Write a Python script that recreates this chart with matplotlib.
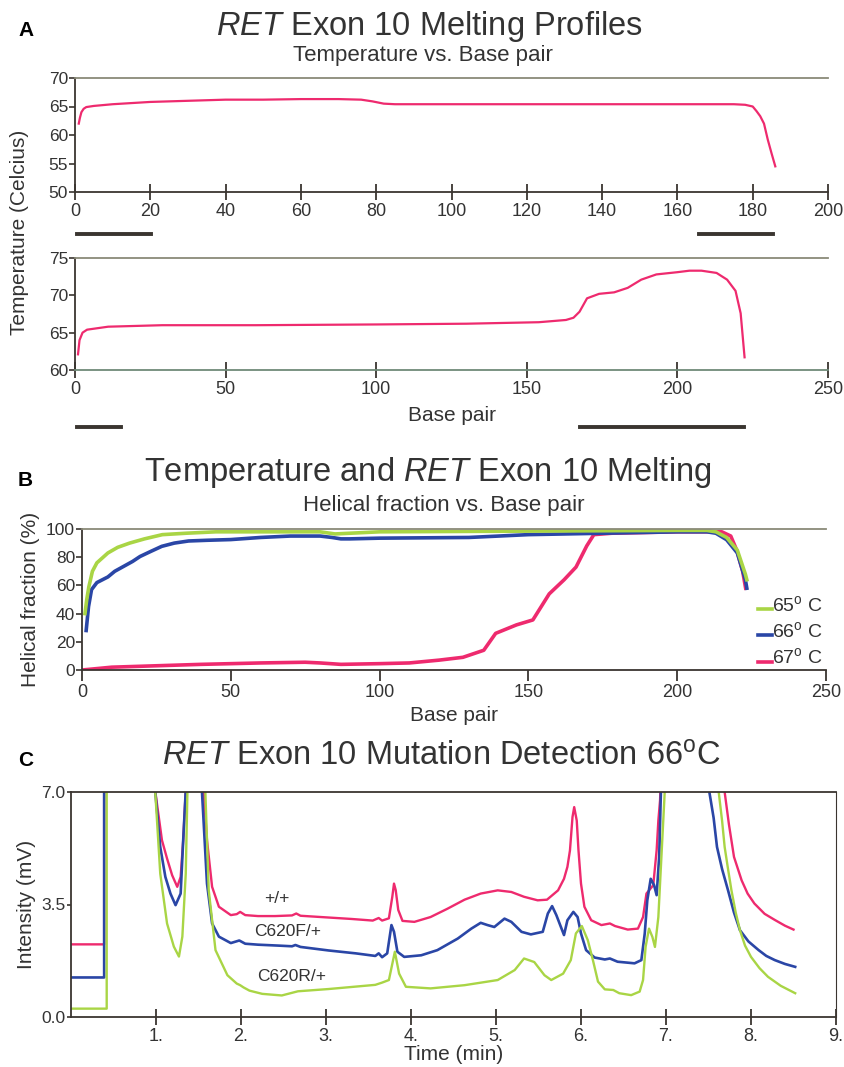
import matplotlib
matplotlib.use("Agg")
import matplotlib.pyplot as plt
from matplotlib import font_manager

# fonts
names = {f.name for f in font_manager.fontManager.ttflist}
NARROW = "Liberation Sans Narrow" if "Liberation Sans Narrow" in names else "Liberation Sans"
plt.rcParams['font.family'] = ['Liberation Sans', 'DejaVu Sans']
plt.rcParams['mathtext.fontset'] = 'custom'
plt.rcParams['mathtext.rm'] = 'Liberation Sans'
plt.rcParams['mathtext.it'] = 'Liberation Sans:italic'
plt.rcParams['mathtext.bf'] = 'Liberation Sans:bold'

PINK = '#ee2a6e'
BLUE = '#2a46a6'
GREEN = '#a9d545'
DARK = '#3a3530'

# ---- panel A: temperature vs base pair (two amplicons)
bp_a1 = [1, 1.3, 1.7, 2.3, 3, 5, 10, 20, 30, 40, 50, 60, 70, 76, 79, 82, 85, 100,
         120, 140, 160, 175, 178, 180, 181, 182, 183, 184, 185, 186]
t_a1 = [62.0, 63.0, 64.0, 64.6, 64.9, 65.1, 65.4, 65.8, 66.0, 66.2, 66.2, 66.3,
        66.3, 66.2, 65.9, 65.5, 65.4, 65.4, 65.4, 65.4, 65.4, 65.4, 65.3, 65.0,
        64.2, 63.3, 62.0, 59.2, 56.8, 54.5]
bp_a2 = [1, 1.5, 2.5, 4, 11, 29, 60, 100, 130, 154, 163, 165.5, 167.5, 170, 174,
         179, 183.5, 188, 193, 200, 204, 208, 213, 216.5, 219.3, 221, 222.3]
t_a2 = [62.1, 64.0, 65.0, 65.4, 65.8, 66.0, 66.0, 66.1, 66.2, 66.4, 66.7, 67.0,
        67.8, 69.6, 70.2, 70.4, 71.0, 72.1, 72.8, 73.1, 73.3, 73.3, 73.0, 72.1,
        70.6, 67.6, 61.7]
bars_a1 = [(0.5, 20.3), (165.7, 185.4)]
bars_a2 = [(0.5, 15.2), (167.5, 222)]

# ---- panel B: helical fraction
bp_65 = [1, 1.6, 2.3, 3.5, 5, 8.7, 12, 16, 21, 27, 35, 45, 60, 80, 85, 90, 100,
         150, 200, 210, 213, 216.6, 220.2, 222.9, 223.4]
hf_65 = [40, 50, 59, 70, 76, 83, 87, 90, 93, 96, 97, 98, 98, 98, 96.5, 97, 98,
         98.5, 99, 99, 98, 94, 85, 68, 64]
bp_66 = [1.4, 2.2, 3.2, 5, 8.7, 11, 14, 17, 19.5, 23, 26.8, 31, 35.8, 42, 50, 60,
         70, 80, 84, 87, 90, 100, 130, 150, 175, 200, 210, 213, 216.6, 220.2,
         222.9, 223.4]
hf_66 = [28, 45, 57, 62, 66, 70, 73.5, 77, 80.5, 84, 87.7, 90, 91.5, 92, 92.5,
         94, 95, 95, 94, 93, 93, 93.5, 94, 96, 97, 98, 98, 97, 92.4, 83, 64, 58]
bp_67 = [0, 10, 25, 40, 50, 60, 75, 80, 87, 100, 110, 120, 128, 135, 139, 146,
         151.5, 157, 162, 166, 169.6, 172, 178, 200, 215, 218, 220, 222, 223]
hf_67 = [0, 2, 3, 4, 4.5, 5, 5.5, 5, 4, 4.5, 5, 7, 9, 14, 26, 32, 35.5, 54, 64,
         73, 88, 96, 97, 98, 98, 95, 85, 70, 58]
legend_b = ['65$^{\\mathrm{o}}$ C', '66$^{\\mathrm{o}}$ C', '67$^{\\mathrm{o}}$ C']

# ---- panel C: chromatograms (values above 7 run off the top of the plot)
t_wt = [0, 0.39, 0.39, 0.6, 0.97, 0.99, 1.07, 1.13, 1.19, 1.25, 1.29, 1.32, 1.35,
        1.4, 1.5, 1.56, 1.6, 1.66, 1.74, 1.88, 1.95, 1.99, 2.05, 2.2, 2.4, 2.6,
        2.65, 2.7, 3.0, 3.3, 3.55, 3.62, 3.66, 3.74, 3.78, 3.8, 3.82, 3.85, 3.9,
        4.04, 4.23, 4.43, 4.63, 4.82, 5.02, 5.18, 5.33, 5.49, 5.6, 5.73, 5.8,
        5.84, 5.87, 5.9, 5.92, 5.95, 5.97, 6.0, 6.04, 6.12, 6.24, 6.34, 6.4,
        6.55, 6.67, 6.73, 6.77, 6.85, 6.89, 6.91, 6.93, 6.96, 7.6, 7.69, 7.74,
        7.8, 7.89, 7.96, 8.04, 8.16, 8.28, 8.4, 8.5]
i_wt = [2.26, 2.26, 9, 9, 9, 7.05, 5.5, 4.93, 4.41, 4.05, 4.36, 5.5, 7.05, 9, 9,
        7.05, 5.5, 4.05, 3.43, 3.17, 3.2, 3.27, 3.17, 3.14, 3.14, 3.16, 3.22,
        3.15, 3.1, 3.05, 3.0, 3.08, 3.0, 3.07, 3.74, 4.15, 3.95, 3.33, 2.99, 2.96,
        3.11, 3.37, 3.65, 3.84, 3.94, 3.89, 3.74, 3.63, 3.65, 3.94, 4.3, 4.67,
        5.18, 6.22, 6.53, 6.11, 5.2, 4.15, 3.43, 3.01, 2.86, 2.91, 2.83, 2.72,
        2.75, 3.11, 3.84, 4.1, 5.19, 6.11, 6.74, 9, 9, 7.0, 6.0, 4.98, 4.25,
        3.84, 3.53, 3.21, 3.02, 2.84, 2.72]
t_f = [0, 0.39, 0.39, 0.6, 0.97, 0.99, 1.05, 1.11, 1.17, 1.23, 1.29, 1.32, 1.35,
       1.4, 1.5, 1.54, 1.6, 1.66, 1.74, 1.88, 1.98, 2.05, 2.2, 2.45, 2.6, 2.64,
       2.7, 3.03, 3.35, 3.58, 3.62, 3.66, 3.72, 3.77, 3.8, 3.84, 3.92, 4.12, 4.31,
       4.55, 4.71, 4.82, 4.9, 4.98, 5.1, 5.18, 5.3, 5.41, 5.55, 5.61, 5.66, 5.71,
       5.8, 5.84, 5.91, 5.96, 6.0, 6.06, 6.16, 6.28, 6.34, 6.43, 6.63, 6.71,
       6.75, 6.78, 6.82, 6.86, 6.89, 6.92, 6.96, 7.4, 7.51, 7.56, 7.6, 7.66,
       7.73, 7.8, 7.87, 7.97, 8.09, 8.18, 8.28, 8.4, 8.52]
i_f = [1.23, 1.23, 9, 9, 9, 7.05, 5.29, 4.36, 3.84, 3.48, 3.84, 5.5, 7.05, 9, 9,
       7.05, 4.15, 2.91, 2.5, 2.3, 2.38, 2.28, 2.25, 2.22, 2.2, 2.24, 2.18, 2.07,
       1.98, 1.9, 1.98, 1.86, 1.98, 2.86, 2.65, 2.03, 1.87, 1.92, 2.08, 2.44,
       2.75, 2.93, 2.86, 2.8, 3.06, 2.96, 2.65, 2.57, 2.65, 3.22, 3.45, 3.17,
       2.55, 3.01, 3.27, 3.11, 2.6, 2.08, 1.85, 1.79, 1.82, 1.72, 1.67, 1.77,
       2.6, 3.63, 4.3, 4.1, 3.79, 5.0, 9, 9, 7.0, 6.2, 5.29, 4.6, 3.94, 3.25,
       2.7, 2.35, 2.08, 1.9, 1.77, 1.65, 1.56]
t_r = [0, 0.42, 0.42, 0.6, 0.97, 0.99, 1.05, 1.13, 1.21, 1.27, 1.31, 1.35, 1.37,
       1.42, 1.52, 1.58, 1.62, 1.70, 1.84, 1.95, 1.99, 2.03, 2.1, 2.25, 2.48,
       2.67, 3.03, 3.58, 3.66, 3.74, 3.81, 3.86, 3.94, 4.23, 4.63, 5.02, 5.22,
       5.33, 5.45, 5.57, 5.65, 5.79, 5.88, 5.94, 6.01, 6.08, 6.14, 6.2, 6.28,
       6.38, 6.45, 6.59, 6.69, 6.73, 6.76, 6.8, 6.84, 6.87, 6.91, 6.95, 6.98,
       7.02, 7.55, 7.62, 7.66, 7.69, 7.73, 7.77, 7.82, 7.87, 7.93, 8.0, 8.1, 8.2,
       8.35, 8.52]
i_r = [0.26, 0.26, 9, 9, 9, 7.05, 4.46, 2.91, 2.19, 1.88, 2.5, 4.46, 7.05, 9, 9,
       7.05, 3.95, 2.08, 1.3, 1.04, 0.99, 0.92, 0.82, 0.72, 0.67, 0.8, 0.87, 1.0,
       1.07, 1.15, 2.03, 1.35, 0.94, 0.89, 0.99, 1.15, 1.46, 1.82, 1.71, 1.3,
       1.15, 1.35, 1.77, 2.6, 2.83, 2.39, 1.77, 1.1, 0.86, 0.84, 0.74, 0.68, 0.79,
       1.15, 2.18, 2.75, 2.49, 2.18, 3.11, 5.19, 6.74, 9, 9, 7.0, 6.1, 5.29, 4.6,
       3.94, 3.25, 2.7, 2.22, 1.87, 1.52, 1.25, 0.97, 0.74]
trace_names = ['+/+', 'C620F/+', 'C620R/+']
name_pos = [(2.42, 3.7), (2.55, 2.65), (2.59, 1.25)]

fig = plt.figure(figsize=(8.44, 10.67), dpi=100)
W, H = 844, 1067


def axes_px(x0, y0, x1, y1):
    return fig.add_axes([x0 / W, 1 - y1 / H, (x1 - x0) / W, (y1 - y0) / H])


def style(ax, right=False, tlen=4):
    for s in ['left', 'bottom', 'top']:
        ax.spines[s].set_color(DARK)
        ax.spines[s].set_linewidth(1.3)
    ax.spines['top'].set_color('#8a8a78')
    ax.spines['right'].set_visible(right)
    ax.spines['right'].set_color(DARK)
    ax.tick_params(axis='x', direction='inout', length=12, width=1.3, color=DARK,
                   pad=2, labelsize=13)
    ax.tick_params(axis='y', direction='out', length=tlen, width=1.2, color=DARK,
                   pad=1, labelsize=12.5)
    for lab in ax.get_xticklabels() + ax.get_yticklabels():
        lab.set_family(NARROW)
        lab.set_color('#333333')


# panel A top
ax1 = axes_px(75, 78, 828, 192)
ax1.plot(bp_a1, t_a1, color=PINK, lw=1.6)
ax1.set_xlim(0, 200)
ax1.set_ylim(50, 70)
ax1.set_xticks(range(0, 201, 20))
ax1.set_yticks(range(50, 71, 5))
style(ax1)
for x0, x1 in bars_a1:
    ax1.plot([x0, x1], [-0.37, -0.37], color=DARK, lw=2.8, clip_on=False,
             transform=ax1.get_xaxis_transform())

# panel A bottom
ax2 = axes_px(75, 258, 828, 370)
ax2.plot(bp_a2, t_a2, color=PINK, lw=1.6)
ax2.set_xlim(0, 250)
ax2.set_ylim(60, 75)
ax2.set_xticks(range(0, 251, 50))
ax2.set_yticks(range(60, 76, 5))
style(ax2)
ax2.spines['bottom'].set_color('#6f8a78')
ax2.set_xlabel('Base pair', fontsize=15, labelpad=6, color='#333333')
for x0, x1 in bars_a2:
    ax2.plot([x0, x1], [-0.51, -0.51], color=DARK, lw=2.8, clip_on=False,
             transform=ax2.get_xaxis_transform())

fig.text(18 / W, 1 - 30 / H, 'A', fontsize=15, fontweight='bold', va='center')
fig.text(429 / W, 1 - 27 / H, r'$\mathit{RET}$ Exon 10 Melting Profiles',
         fontsize=23.5, ha='center', va='center', color='#333333')
fig.text(423 / W, 1 - 55 / H, 'Temperature vs. Base pair', fontsize=16,
         ha='center', va='center', color='#333333')
fig.text(20 / W, 1 - 232 / H, 'Temperature (Celcius)', fontsize=15,
         rotation=90, ha='center', va='center', color='#333333')

# panel B
ax3 = axes_px(82, 529, 826, 670)
ax3.plot(bp_67, hf_67, color=PINK, lw=2.6)
ax3.plot(bp_66, hf_66, color=BLUE, lw=2.6)
ax3.plot(bp_65, hf_65, color=GREEN, lw=2.6)
ax3.set_xlim(0, 250)
ax3.set_ylim(0, 100)
ax3.set_xticks(range(0, 251, 50))
ax3.set_yticks(range(0, 101, 20))
style(ax3)
ax3.tick_params(axis='x', direction='out', length=8)
ax3.set_xlabel('Base pair', fontsize=15, labelpad=4, color='#333333')
ax3.set_ylabel('Helical fraction (%)', fontsize=15, labelpad=4, color='#333333')
for k, (lab, col) in enumerate(zip(legend_b, [GREEN, BLUE, PINK])):
    yy = 0.46 - k * 0.185
    ax3.plot([0.908, 0.927], [yy - 0.03, yy - 0.03], color=col, lw=2.6,
             transform=ax3.transAxes, clip_on=False)
    ax3.text(0.927, yy, lab, transform=ax3.transAxes, fontsize=14,
             va='center', ha='left', color='#333333')

fig.text(18 / W, 1 - 480 / H, 'B', fontsize=15, fontweight='bold', va='center')
fig.text(428 / W, 1 - 473 / H, r'Temperature and $\mathit{RET}$ Exon 10 Melting',
         fontsize=23.5, ha='center', va='center', color='#333333')
fig.text(444 / W, 1 - 506 / H, 'Helical fraction vs. Base pair', fontsize=16,
         ha='center', va='center', color='#333333')

# panel C
ax4 = axes_px(71, 792, 836, 1017)
ax4.plot(t_wt, i_wt, color=PINK, lw=1.7)
ax4.plot(t_f, i_f, color=BLUE, lw=1.9)
ax4.plot(t_r, i_r, color=GREEN, lw=1.7)
ax4.set_xlim(0, 9)
ax4.set_ylim(0, 7)
ax4.set_xticks(range(1, 10))
ax4.set_xticklabels([f'{i}.' for i in range(1, 10)])
ax4.set_yticks([0, 3.5, 7])
ax4.set_yticklabels(['0.0', '3.5', '7.0'])
style(ax4, right=True, tlen=3)
ax4.spines['top'].set_color(DARK)
ax4.set_xlabel('Time (min)', fontsize=15, labelpad=0, color='#333333')
ax4.set_ylabel('Intensity (mV)', fontsize=15, labelpad=4, color='#333333')
for name, (x, y) in zip(trace_names, name_pos):
    ax4.text(x, y, name, fontsize=12.5, ha='center', va='center',
             family=NARROW, color='#333333')

fig.text(18 / W, 1 - 760 / H, 'C', fontsize=15, fontweight='bold', va='center')
fig.text(441 / W, 1 - 757 / H,
         r'$\mathit{RET}$ Exon 10 Mutation Detection 66$^{\mathrm{o}}$C',
         fontsize=23.5, ha='center', va='center', color='#333333')

fig.savefig('out.png', dpi=100)
